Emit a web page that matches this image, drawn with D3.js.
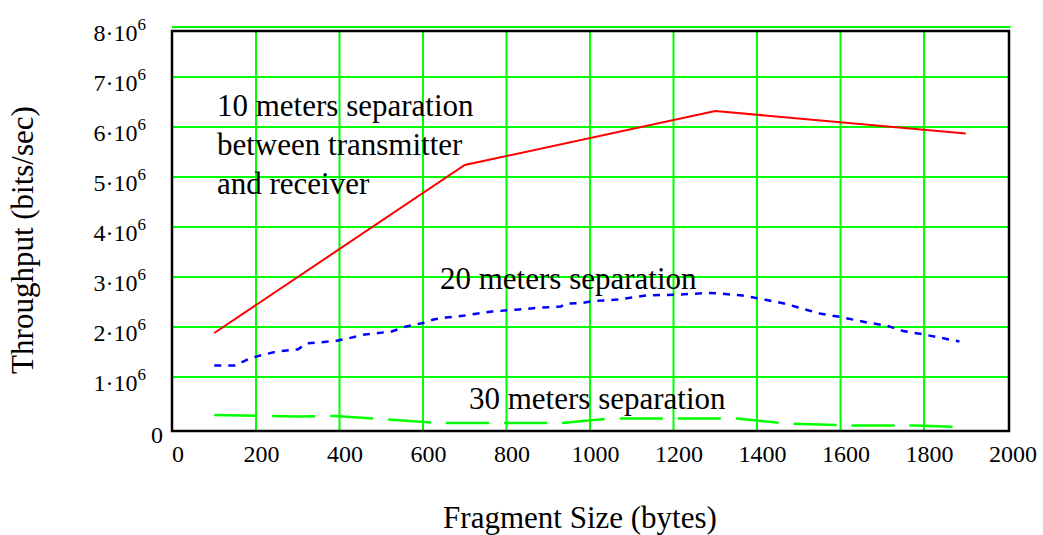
<!DOCTYPE html>
<html>
<head>
<meta charset="utf-8">
<script src="https://cdn.jsdelivr.net/npm/d3@7"></script>
<style>
  html, body { margin: 0; padding: 0; background: #fff; }
  svg { display: block; font-family: "Liberation Serif", "Times New Roman", serif; }
</style>
</head>
<body>
<svg id="chart" width="1043" height="535"></svg>
<script>
// Fragment size (bytes) vs throughput (bits/sec)
const xTicks = [0, 200, 400, 600, 800, 1000, 1200, 1400, 1600, 1800, 2000];
const yTicks = [0, 1e6, 2e6, 3e6, 4e6, 5e6, 6e6, 7e6, 8e6];

// 10 m separation
const sep10Size = [100, 700, 1300, 1900];
const sep10Rate = [1.88e6, 5.24e6, 6.32e6, 5.87e6];

// 20 m separation
const sep20Size = [100, 150, 185, 210, 245, 290, 300, 320, 390, 420, 460, 525, 555, 600, 625, 655, 700,
  765, 830, 870, 930, 945, 980, 1010, 1070, 1135, 1215, 1280, 1310, 1365, 1405, 1465, 1495, 1550,
  1600, 1670, 1710, 1750, 1800, 1885];
const sep20Rate = [1.23e6, 1.23e6, 1.37e6, 1.43e6, 1.50e6, 1.55e6, 1.55e6, 1.67e6, 1.72e6, 1.77e6,
  1.85e6, 1.91e6, 2.00e6, 2.08e6, 2.15e6, 2.19e6, 2.23e6, 2.31e6, 2.35e6, 2.38e6, 2.41e6, 2.47e6,
  2.48e6, 2.52e6, 2.55e6, 2.63e6, 2.65e6, 2.68e6, 2.67e6, 2.63e6, 2.57e6, 2.47e6, 2.40e6, 2.27e6,
  2.20e6, 2.08e6, 2.03e6, 1.92e6, 1.85e6, 1.71e6];

// 30 m separation
const sep30Size = [100, 300, 390, 640, 930, 1050, 1350, 1470, 1620, 1780, 1885];
const sep30Rate = [0.24e6, 0.21e6, 0.22e6, 0.08e6, 0.08e6, 0.17e6, 0.17e6, 0.07e6, 0.03e6, 0.03e6, 0.0];

const annot10 = ["10 meters separation", "between transmitter", "and receiver"];
const annot20 = "20 meters separation";
const annot30 = "30 meters separation";
const xTitle = "Fragment Size (bytes)";
const yTitle = "Throughput (bits/sec)";

const svg = d3.select("#chart");

const frame = { left: 172, top: 31, right: 1009, bottom: 431 };
const x = d3.scaleLinear().domain([0, 2000]).range([172.5, 1007.5]);
const y = d3.scaleLinear().domain([0, 8e6]).range([427, 27]);

const GREEN = "#00ff00";

// grid
svg.append("g").selectAll("line").data(yTicks.filter(v => v > 0)).join("line")
  .attr("x1", frame.left).attr("x2", d => d === 8e6 ? frame.right + 1.5 : frame.right)
  .attr("y1", d => y(d)).attr("y2", d => y(d))
  .attr("stroke", GREEN).attr("stroke-width", 2);
svg.append("g").selectAll("line").data(xTicks.filter(v => v > 0 && v < 2000)).join("line")
  .attr("x1", d => x(d)).attr("x2", d => x(d))
  .attr("y1", frame.top).attr("y2", frame.bottom)
  .attr("stroke", GREEN).attr("stroke-width", 2);

// frame
svg.append("rect")
  .attr("x", frame.left).attr("y", frame.top)
  .attr("width", frame.right - frame.left).attr("height", frame.bottom - frame.top)
  .attr("fill", "none").attr("stroke", "#000").attr("stroke-width", 2.5);

// series
const line = d3.line().x(d => x(d[0])).y(d => y(d[1]));
const zip = (a, b) => a.map((v, i) => [v, b[i]]);

svg.append("path").datum(zip(sep30Size, sep30Rate)).attr("d", line)
  .attr("fill", "none").attr("stroke", GREEN).attr("stroke-width", 2.5)
  .attr("stroke-dasharray", "43,15");
svg.append("path").datum(zip(sep20Size, sep20Rate)).attr("d", line)
  .attr("fill", "none").attr("stroke", "#0000ff").attr("stroke-width", 2.5)
  .attr("stroke-dasharray", "7,7");
svg.append("path").datum(zip(sep10Size, sep10Rate)).attr("d", line)
  .attr("fill", "none").attr("stroke", "#ff0000").attr("stroke-width", 2);

// x tick labels
svg.append("g").selectAll("text").data(xTicks).join("text")
  .attr("x", d => x(d) + 5.5).attr("y", 462)
  .attr("text-anchor", "middle").attr("font-size", 24)
  .text(d => String(d));

// y tick labels
const yl = svg.append("g").selectAll("text").data(yTicks).join("text")
  .attr("font-size", 24).attr("text-anchor", "end")
  .attr("x", d => d === 0 ? 163 : 146)
  .attr("y", d => d === 0 ? y(d) + 16 : y(d) + 14);
yl.filter(d => d === 0).text("0");
yl.filter(d => d > 0).each(function (d) {
  const t = d3.select(this);
  t.append("tspan").text(`${d / 1e6}\u00b710`);
  t.append("tspan").attr("dy", -11).attr("font-size", 17).text("6");
});

// annotations
const a10 = svg.append("text").attr("font-size", 31).attr("x", 217);
annot10.forEach((s, i) => a10.append("tspan").attr("x", 217).attr("y", 116 + i * 39).text(s));
svg.append("text").attr("font-size", 31).attr("x", 440).attr("y", 289).text(annot20);
svg.append("text").attr("font-size", 31).attr("x", 469).attr("y", 409).text(annot30);

// axis titles
svg.append("text").attr("font-size", 31).attr("text-anchor", "middle")
  .attr("x", 580).attr("y", 528).text(xTitle);
svg.append("text").attr("font-size", 31).attr("text-anchor", "middle")
  .attr("transform", "translate(33,240) rotate(-90)").text(yTitle);
</script>
</body>
</html>
